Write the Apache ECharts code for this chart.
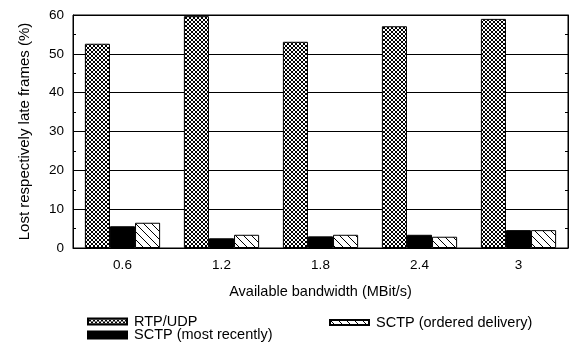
<!DOCTYPE html>
<html><head><meta charset="utf-8">
<script src="https://cdn.jsdelivr.net/npm/echarts@6/dist/echarts.min.js"></script>
<style>html,body{margin:0;padding:0;background:#fff}#c{width:575px;height:347px}</style>
</head><body><div id="c"></div>
<script>
const categories = ['0.6', '1.2', '1.8', '2.4', '3'];
const rtpUdp = [52.6, 59.7, 53.1, 57.1, 59.0];
const sctpRecent = [5.6, 2.5, 3.0, 3.4, 4.6];
const sctpOrdered = [6.5, 3.4, 3.4, 2.9, 4.6];
const yTicks = [0, 10, 20, 30, 40, 50, 60];

function makePattern(size, pts) {
  const c = document.createElement('canvas');
  c.width = size; c.height = size;
  const ctx = c.getContext('2d');
  ctx.fillStyle = '#fff'; ctx.fillRect(0, 0, size, size);
  ctx.fillStyle = '#000';
  pts.forEach(p => ctx.fillRect(p[0], p[1], 1, 1));
  return c;
}
const crossPts = [];
for (let i = 0; i < 4; i++) { crossPts.push([i, i]); crossPts.push([i, 3 - i]); }
const diagPts = [];
for (let i = 0; i < 8; i++) { diagPts.push([i, i]); }
const crossFill = { image: makePattern(4, crossPts), repeat: 'repeat' };
const diagFill = { image: makePattern(8, diagPts), repeat: 'repeat' };

const font = 'Liberation Sans, Arial, sans-serif';
const chart = echarts.init(document.getElementById('c'), null, { renderer: 'canvas' });
const legendBase = {
  itemWidth: 39, itemHeight: 6, icon: 'rect', padding: 0,
  textStyle: { fontFamily: font, fontSize: 14.5, lineHeight: 15, color: '#000', padding: [0, 0, 0, 2] },
  selectedMode: false
};
chart.setOption({
  animation: false,
  backgroundColor: '#fff',
  grid: { left: 73, right: 7, top: 15, bottom: 99, show: true, borderColor: '#000', borderWidth: 1 },
  legend: [
    Object.assign({}, legendBase, { data: ['RTP/UDP'], left: 87, top: 314 }),
    Object.assign({}, legendBase, { data: ['SCTP (ordered delivery)'], left: 329, top: 315, itemHeight: 5 }),
    Object.assign({}, legendBase, { data: ['SCTP (most recently)'], left: 87, top: 327.5, itemHeight: 7 })
  ],
  xAxis: {
    type: 'category', data: categories,
    name: 'Available bandwidth (MBit/s)', nameLocation: 'middle', nameGap: 36,
    nameTextStyle: { fontFamily: font, fontSize: 14.5, color: '#000' },
    axisLine: { lineStyle: { color: '#000', width: 1 } },
    axisTick: { show: false },
    axisLabel: { fontFamily: font, fontSize: 13.5, color: '#000', margin: 10 }
  },
  yAxis: [{
    type: 'value', min: yTicks[0], max: yTicks[yTicks.length - 1], interval: 10,
    name: 'Lost respectively late frames (%)', nameLocation: 'middle', nameGap: 41,
    nameTextStyle: { fontFamily: font, fontSize: 15, color: '#000' },
    axisLine: { show: true, lineStyle: { color: '#000' } },
    axisTick: { show: true, inside: true, length: 3, lineStyle: { color: '#000' } },
    minorTick: { show: true, splitNumber: 2, length: 3, lineStyle: { color: '#000' } },
    splitLine: { show: true, lineStyle: { color: '#000', width: 1 } },
    axisLabel: { fontFamily: font, fontSize: 13.5, color: '#000', margin: 9 }
  }, {
    type: 'value', position: 'right', min: yTicks[0], max: yTicks[yTicks.length - 1], interval: 10,
    axisLine: { show: true, lineStyle: { color: '#000' } },
    axisTick: { show: true, inside: true, length: 3, lineStyle: { color: '#000' } },
    minorTick: { show: true, splitNumber: 2, length: 3, lineStyle: { color: '#000' } },
    splitLine: { show: false },
    axisLabel: { show: false }
  }],
  series: [
    { name: 'RTP/UDP', type: 'bar', data: rtpUdp, barGap: '0%', barCategoryGap: '24%',
      itemStyle: { color: crossFill, borderColor: '#000', borderWidth: 1 } },
    { name: 'SCTP (most recently)', type: 'bar', data: sctpRecent,
      itemStyle: { color: '#000', borderColor: '#000', borderWidth: 1 } },
    { name: 'SCTP (ordered delivery)', type: 'bar', data: sctpOrdered,
      itemStyle: { color: diagFill, borderColor: '#000', borderWidth: 1 } }
  ]
});
</script></body></html>
